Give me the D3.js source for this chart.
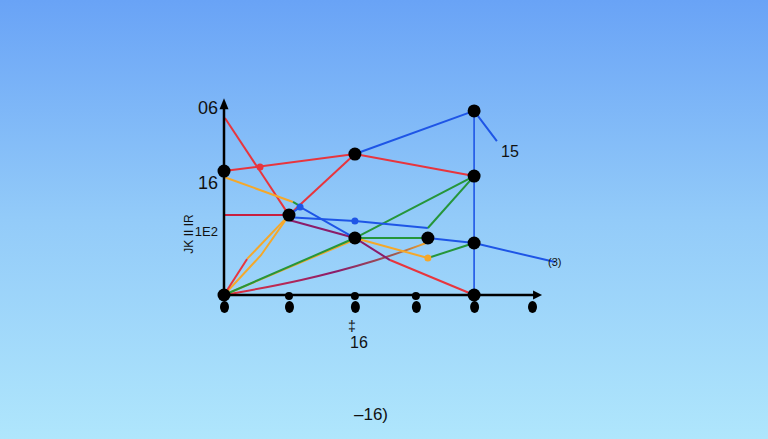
<!DOCTYPE html>
<html>
<head>
<meta charset="utf-8">
<script src="https://cdn.jsdelivr.net/npm/d3@7"></script>
<style>
  html, body { margin: 0; padding: 0; }
  body { width: 768px; height: 439px; overflow: hidden; font-family: "Liberation Sans", Arial, sans-serif; }
</style>
</head>
<body>
<svg id="chart" width="768" height="439"></svg>
<script>
// ===== DATA =====
const xTicks = [0, 21.1, 42.5, 62.3, 81.2, 100];
const xAxisDots = [21.1, 42.5, 62.3];
const yTickValues = [101, 60.5, 34.6];
const yTickLabels = ['06', '16', '1E2'];

// line series, [x, y] pairs
const redA = [[0.3, 95.7], [21.1, 43.2]];
const redB = [[0, 67], [42.5, 76.2], [81.2, 64.3]];
const redC = [[21.1, 43.2], [42.5, 76.2]];
const crimsonD = [[0, 43.2], [21.1, 43.2]];
const purpleE = [[21.1, 40.5], [42.5, 30.8], [53.9, 18.9]];
const redE = [[53.9, 18.9], [81.2, 0]];
const orangeF = [[0, 63.8], [22.4, 50.3]];
const greenF = [[22.4, 50.3], [24.7, 48]];
const greenG = [[0, 0], [42.5, 30.8], [81.2, 64.3]];
const orangeH = [[0, 0], [42.5, 30]];
const orangeI = [[0, 0], [12, 21.5], [21.1, 43.2]];
const redJ = [[0, 0], [7.5, 19.5]];
const orangeJ = [[7.5, 19.5], [21.1, 43.2]];
const curveK = [[0, 0], [25, 7.5], [50.6, 18.9], [65.6, 28.1]];
const blueL = [[21.1, 43.2], [24.7, 47.6], [42.5, 30.8]];
const blueM = [[21.1, 42], [42.5, 40], [66.2, 36.2]];
const blueN = [[66.2, 30.8], [81.2, 28.1], [107.5, 17.8]];
const blueO = [[42.5, 76.2], [81.2, 99.5], [88.6, 83.2]];
const blueV = [[81.2, 99.5], [81.2, 0]];
const greenP = [[42.5, 30.8], [66.2, 30.8]];
const greenQ = [[66.2, 36.2], [81.2, 64.3]];
const orangeR = [[42.5, 30.8], [66.2, 20]];
const greenS = [[66.2, 20], [81.2, 28.1]];

const bigDots = [[0, 67], [21.1, 43.2], [42.5, 76.2], [42.5, 30.8], [66.2, 30.8],
                 [81.2, 99.5], [81.2, 64.3], [81.2, 28.1], [81.2, 0], [0, 0]];
const redDots = [[11.7, 69.2]];
const blueDots = [[24.7, 47.6], [42.5, 40]];
const orangeDots = [[66.2, 20]];

// ===== SETUP =====
const svg = d3.select('#chart');
const defs = svg.append('defs');

const bg = defs.append('linearGradient').attr('id', 'bg')
    .attr('x1', 0).attr('y1', 0).attr('x2', 0).attr('y2', 1);
bg.append('stop').attr('offset', '0%').attr('stop-color', '#69a3f6');
bg.append('stop').attr('offset', '50%').attr('stop-color', '#93cbf9');
bg.append('stop').attr('offset', '100%').attr('stop-color', '#afe6fc');

svg.append('rect').attr('width', 768).attr('height', 439).attr('fill', 'url(#bg)');

const x = d3.scaleLinear().domain([0, 100]).range([224, 532]);
const y = d3.scaleLinear().domain([0, 100]).range([295, 110]);

const kGrad = defs.append('linearGradient').attr('id', 'kgrad')
    .attr('gradientUnits', 'userSpaceOnUse')
    .attr('x1', x(0)).attr('y1', 0).attr('x2', x(65.6)).attr('y2', 0);
kGrad.append('stop').attr('offset', '0%').attr('stop-color', '#e8353d');
kGrad.append('stop').attr('offset', '55%').attr('stop-color', '#8b1c6a');
kGrad.append('stop').attr('offset', '85%').attr('stop-color', '#a05a50');
kGrad.append('stop').attr('offset', '100%').attr('stop-color', '#f5a82a');

const line = d3.line().x(d => x(d[0])).y(d => y(d[1]));
const curve = d3.line().x(d => x(d[0])).y(d => y(d[1])).curve(d3.curveBasis);

// ===== AXES =====
const xAxis = svg.append('g')
    .attr('transform', `translate(0, ${y(0)})`)
    .call(d3.axisBottom(x).tickValues(xTicks).tickSize(0).tickFormat(''));
xAxis.select('.domain').remove();
xAxis.selectAll('.tick').append('ellipse')
    .attr('cx', 0).attr('cy', 12).attr('rx', 4.5).attr('ry', 6).attr('fill', '#000');

const yAxis = svg.append('g')
    .attr('transform', `translate(${x(0)}, 0)`)
    .call(d3.axisLeft(y).tickValues(yTickValues).tickSize(0)
        .tickFormat((d, i) => yTickLabels[i]));
yAxis.select('.domain').remove();
yAxis.selectAll('.tick text')
    .attr('x', -6)
    .style('font-family', '"Liberation Sans", Arial, sans-serif')
    .style('font-size', (d, i) => i === 2 ? '13px' : '18px')
    .style('fill', '#111');

// ===== SERIES =====
const series = [
    [redA, '#e8353d'], [redB, '#e8353d'], [redC, '#e8353d'], [crimsonD, '#c8203f'],
    [purpleE, '#8b1c6a'], [redE, '#e8353d'], [orangeF, '#f5a82a'], [greenF, '#25963a'],
    [orangeH, '#f5a82a'], [greenG, '#25963a'], [orangeI, '#f5a82a'],
    [redJ, '#e8353d'], [orangeJ, '#f5a82a'],
    [blueL, '#1e55e6'], [blueM, '#1e55e6'], [blueN, '#1e55e6'], [blueO, '#1e55e6'],
    [blueV, '#1e55e6'], [greenP, '#25963a'], [greenQ, '#25963a'],
    [orangeR, '#f5a82a'], [greenS, '#25963a']
];

svg.append('path').attr('d', curve(curveK))
    .attr('fill', 'none').attr('stroke', 'url(#kgrad)').attr('stroke-width', 2);

svg.selectAll('.series').data(series).enter().append('path')
    .attr('class', 'series')
    .attr('d', d => line(d[0]))
    .attr('fill', 'none')
    .attr('stroke', d => d[1])
    .attr('stroke-width', d => d[0] === blueV ? 1.6 : 2);

// axis lines with arrows (drawn over the series)
svg.append('line')
    .attr('x1', x(0)).attr('y1', y(0)).attr('x2', x(0)).attr('y2', y(101.5))
    .attr('stroke', '#000').attr('stroke-width', 2.5);
svg.append('path')
    .attr('d', `M${x(0) - 4.5},${y(101.5) + 2} L${x(0)},${y(101.5) - 9} L${x(0) + 4.5},${y(101.5) + 2} Z`)
    .attr('fill', '#000');
svg.append('line')
    .attr('x1', x(0)).attr('y1', y(0)).attr('x2', x(101)).attr('y2', y(0))
    .attr('stroke', '#000').attr('stroke-width', 2.5);
svg.append('path')
    .attr('d', `M${x(101) - 2},${y(0) - 4.5} L${x(101) + 7},${y(0)} L${x(101) - 2},${y(0) + 4.5} Z`)
    .attr('fill', '#000');

// ===== DOTS =====
svg.selectAll('.axisdot').data(xAxisDots).enter().append('circle')
    .attr('cx', d => x(d)).attr('cy', y(0) + 1).attr('r', 4).attr('fill', '#000');

const dotGroups = [[redDots, '#e8353d', 3.5], [blueDots, '#1e55e6', 3.5], [orangeDots, '#f5a82a', 3.5]];
dotGroups.forEach(([pts, color, r]) => {
    svg.selectAll(null).data(pts).enter().append('circle')
        .attr('cx', d => x(d[0])).attr('cy', d => y(d[1])).attr('r', r).attr('fill', color);
});

svg.selectAll('.big').data(bigDots).enter().append('circle')
    .attr('cx', d => x(d[0])).attr('cy', d => y(d[1])).attr('r', 6.5).attr('fill', '#000');

// ===== LABELS =====
const label = (txt, px, py, size, anchor = 'start') => svg.append('text')
    .attr('x', px).attr('y', py)
    .attr('text-anchor', anchor)
    .style('font-size', size + 'px')
    .style('fill', '#111')
    .text(txt);

label('15', 501, 157, 16);
label('(3)', 548, 266, 11);
label('\u2021', 352, 331, 14, 'middle');
label('16', 359, 348, 16, 'middle');
label('\u201316)', 371, 420, 17, 'middle');

svg.append('text')
    .attr('transform', 'translate(193, 234) rotate(-90)')
    .attr('text-anchor', 'middle')
    .style('font-size', '12px')
    .style('fill', '#111')
    .text('JK II IR');
</script>
</body>
</html>
